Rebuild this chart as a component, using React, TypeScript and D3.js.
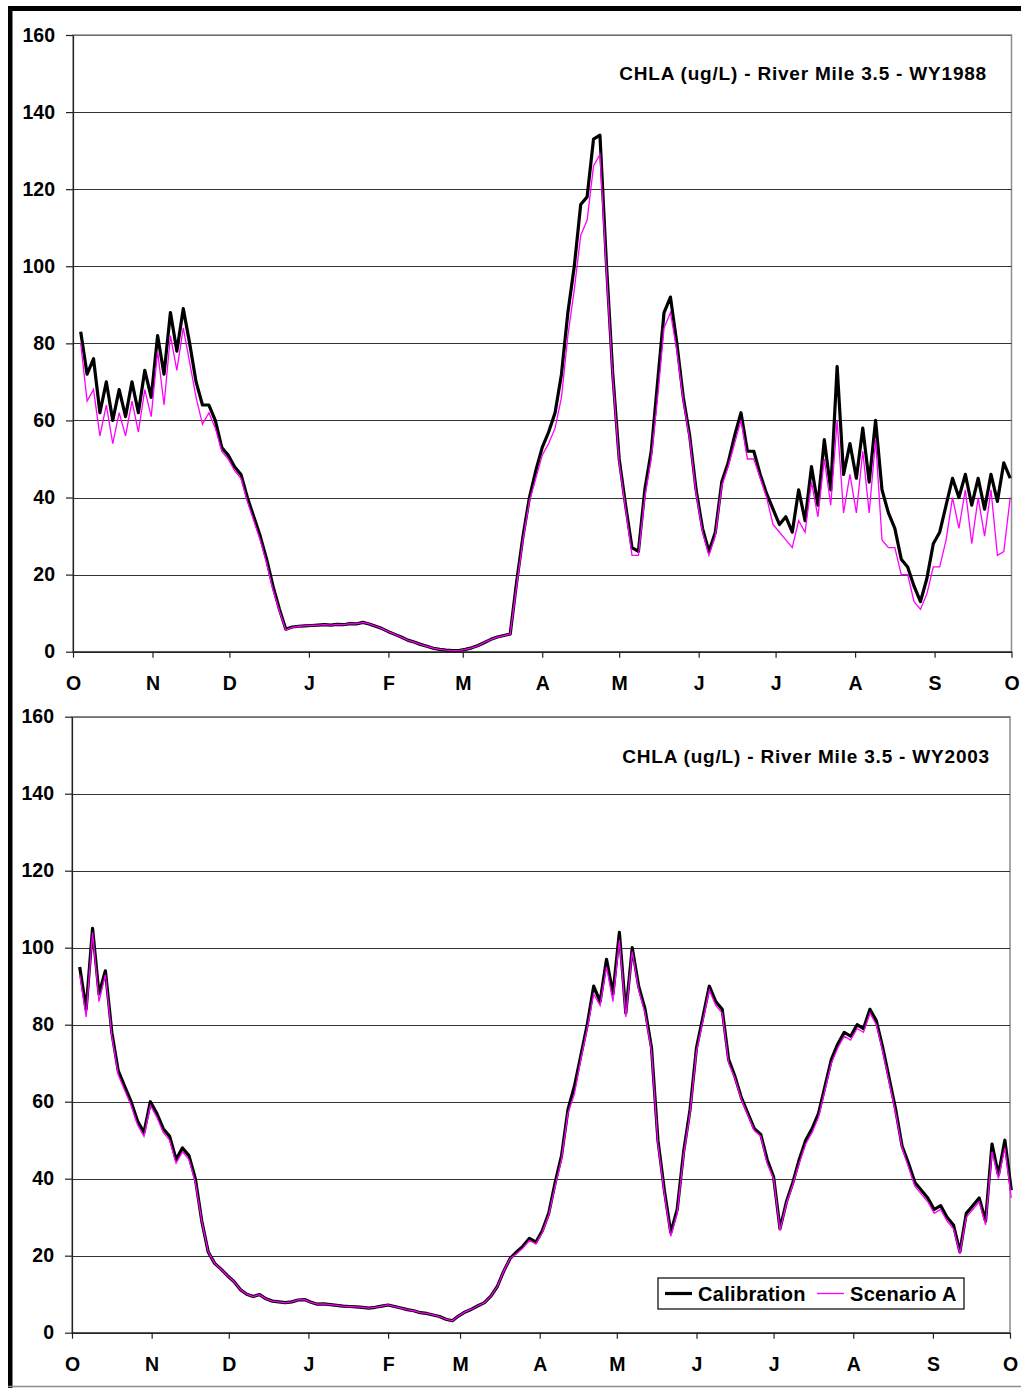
// @ts-nocheck
import React, { useEffect, useRef } from "react";
import * as d3 from "d3";

const monthLabels = ["O", "N", "D", "J", "F", "M", "A", "M", "J", "J", "A", "S", "O"];
// day of water year at each month boundary
const monthStarts1988 = [0, 31, 61, 92, 123, 152, 183, 213, 244, 274, 305, 336, 366];
const monthStarts2003 = [0, 31, 61, 92, 123, 151, 182, 212, 243, 273, 304, 335, 365];
const yTicks = [0, 20, 40, 60, 80, 100, 120, 140, 160];

// values every 2.5 days, starting at day 3
const sampleDays = d3.range(3, 366, 2.5);

const calibration1988 = [
  83, 72, 76, 62, 70, 60, 68, 61, 70, 62, 73, 66, 82, 72, 88, 78, 89, 80, 70, 64,
  64, 60, 53, 51, 48, 46, 40, 35, 30, 24, 17, 11, 5.8, 6.4, 6.6, 6.7, 6.8, 6.9, 7, 6.9,
  7.1, 7, 7.3, 7.2, 7.6, 7.2, 6.6, 6, 5.2, 4.5, 3.8, 3, 2.5, 1.9, 1.4, 0.9, 0.6, 0.4, 0.3, 0.3,
  0.6, 1, 1.6, 2.4, 3.2, 3.8, 4.2, 4.6, 18, 30, 40, 47, 53, 57, 62, 72, 88, 100, 116, 118,
  133, 134, 101, 72, 50, 38, 27, 26, 42, 52, 70, 88, 92, 80, 66, 56, 42, 32, 26, 31,
  44, 49, 56, 62, 52, 52, 46, 41, 37, 33, 35, 31, 42, 34, 48, 38, 55, 42, 74, 46,
  54, 45, 58, 44, 60, 42, 36, 32, 24, 22, 17, 13, 19, 28, 31, 38, 45, 40, 46, 38,
  45, 37, 46, 39, 49, 45,
];

const scenarioA1988 = [
  80, 65, 68, 56, 64, 54, 62, 56, 65, 57, 68, 61, 78, 64, 82, 73, 84, 75, 66, 59,
  62, 58, 52, 50, 47, 45, 39, 34, 29, 23, 16, 10.5, 5.6, 6.3, 6.6, 6.7, 6.8, 6.9, 7, 6.9,
  7.1, 7, 7.3, 7.2, 7.6, 7.2, 6.6, 6, 5.2, 4.5, 3.8, 3, 2.5, 1.9, 1.4, 0.9, 0.6, 0.4, 0.3, 0.3,
  0.6, 1, 1.6, 2.4, 3.2, 3.8, 4.2, 4.6, 17, 29, 39, 45, 51, 54, 58, 66, 82, 94, 108, 112,
  126, 129, 99, 71, 49, 37, 25, 25, 40, 50, 66, 84, 88, 78, 65, 55, 41, 31, 25, 30,
  43, 48, 54, 60, 50, 50, 45, 40, 33, 31, 29, 27, 34, 31, 44, 35, 50, 38, 60, 36,
  46, 36, 52, 36, 55, 29, 27, 27, 20, 20, 13, 11, 15, 22, 22, 29, 40, 32, 42, 28,
  40, 30, 42, 25, 26, 40,
];

const calibration2003 = [
  95, 84, 105, 88, 94, 78, 68, 64, 60, 55, 52, 60, 57, 53, 51, 45, 48, 46, 40, 29,
  21, 18, 16.5, 14.8, 13.3, 11.2, 10, 9.4, 9.9, 8.8, 8.2, 8, 7.8, 8, 8.5, 8.6, 7.9, 7.4, 7.5, 7.3,
  7.1, 6.9, 6.8, 6.7, 6.6, 6.4, 6.6, 6.9, 7.2, 6.8, 6.4, 6, 5.7, 5.2, 5, 4.6, 4.2, 3.5, 3.1, 4.4,
  5.4, 6.1, 7, 7.8, 9.5, 12, 16, 19.3, 21, 22.5, 24.5, 23.5, 26.5, 31, 39, 46, 58, 64, 72, 80,
  90, 86, 97, 88, 104, 83, 100, 90, 84, 74, 50, 37, 26, 32, 47, 58, 74, 82, 90, 86,
  84, 71, 66.5, 61, 57, 53, 51.5, 45, 40.5, 27, 34, 39, 45, 50, 53, 57, 64, 71, 75, 78,
  77, 80, 79, 84, 81, 74, 66, 58, 48.5, 44, 39, 37, 35, 32, 33, 30, 28, 21, 31, 33,
  35, 29, 49, 41, 50, 37,
];

const scenarioA2003 = [
  93, 82, 104, 86, 93, 77, 67, 63, 59, 54, 51, 59, 56, 52, 50, 44, 47, 45, 39, 29,
  21, 18, 16.5, 14.8, 13.3, 11.2, 10, 9.4, 9.9, 8.8, 8.2, 8, 7.8, 8, 8.5, 8.6, 7.9, 7.4, 7.5, 7.3,
  7.1, 6.9, 6.8, 6.7, 6.6, 6.4, 6.6, 6.9, 7.2, 6.8, 6.4, 6, 5.7, 5.2, 5, 4.6, 4.2, 3.5, 3.1, 4.4,
  5.4, 6.1, 7, 7.8, 9.5, 12, 16, 19.3, 20.5, 22, 24, 23, 26, 30.5, 38, 45, 57, 62, 71, 79,
  88, 85, 95, 86, 102, 82, 99, 89, 83, 73, 49, 36, 25, 31, 46, 57, 73, 81, 89, 85,
  83, 70, 66, 60.5, 56.5, 52.5, 51, 44, 40, 26.5, 33.5, 38.5, 44, 49, 52, 56, 63, 70, 74, 77,
  76, 79, 78, 83, 80, 73, 65, 57, 48, 43, 38, 36, 34, 31, 32, 29, 27, 20.5, 30, 32,
  34, 28, 47, 40, 48, 35,
];

const titles = [
  "CHLA (ug/L) - River Mile 3.5 - WY1988",
  "CHLA (ug/L) - River Mile 3.5 - WY2003",
];
const seriesNames = ["Calibration", "Scenario A"];

const FONT = "'Liberation Sans', Arial, sans-serif";

const drawPanel = (svg, p) => {
  const x = d3.scaleLinear().domain([0, p.monthStarts[12]]).range([p.left, p.right]);
  const y = d3.scaleLinear().domain([0, 160]).range([p.bottom, p.top]);
  const g = svg.append("g");

  // plot area border
  g.append("rect")
    .attr("x", p.left)
    .attr("y", p.top)
    .attr("width", p.right - p.left)
    .attr("height", p.bottom - p.top)
    .attr("fill", "white")
    .attr("stroke", "#8c8c8c")
    .attr("stroke-width", 1.5);

  // gridlines
  g.selectAll(".grid")
    .data(yTicks.filter((t) => t > 0))
    .enter()
    .append("line")
    .attr("x1", p.left)
    .attr("x2", p.right)
    .attr("y1", (d) => Math.round(y(d)) + 0.5)
    .attr("y2", (d) => Math.round(y(d)) + 0.5)
    .attr("stroke", (d) => (d === 160 ? "#6e6e6e" : "#333"))
    .attr("stroke-width", 1.2);

  const line = d3
    .line()
    .x((d) => x(d[0]))
    .y((d) => y(d[1]));

  g.append("path")
    .attr("d", line(sampleDays.map((d, i) => [d, p.cal[i]])))
    .attr("fill", "none")
    .attr("stroke", "black")
    .attr("stroke-width", 3.2)
    .attr("stroke-linejoin", "round");

  g.append("path")
    .attr("d", line(sampleDays.map((d, i) => [d, p.scn[i]])))
    .attr("fill", "none")
    .attr("stroke", "#ff00ff")
    .attr("stroke-width", 1.3);

  // Y axis
  const yAxis = g
    .append("g")
    .attr("transform", `translate(${p.left},0)`)
    .call(
      d3.axisLeft(y).tickValues(yTicks).tickSize(7).tickSizeOuter(0).tickPadding(11).tickFormat((d) => d),
    );
  yAxis.select(".domain").attr("stroke", "#222").attr("stroke-width", 1.2);
  yAxis.selectAll("line").attr("stroke", "#222").attr("stroke-width", 1.2);
  yAxis
    .selectAll("text")
    .attr("font-family", FONT)
    .attr("font-weight", "bold")
    .attr("font-size", 19.5)
    .attr("fill", "black");

  // X axis
  const xAxis = g
    .append("g")
    .attr("transform", `translate(0,${p.bottom})`)
    .call(
      d3
        .axisBottom(x)
        .tickValues(p.monthStarts)
        .tickSize(6)
        .tickSizeOuter(0)
        .tickPadding(18)
        .tickFormat((d, i) => monthLabels[i]),
    );
  xAxis.select(".domain").attr("stroke", "#222").attr("stroke-width", 1.5);
  xAxis.selectAll("line").attr("stroke", "#222").attr("stroke-width", 1.2);
  xAxis
    .selectAll("text")
    .attr("font-family", FONT)
    .attr("font-weight", "bold")
    .attr("font-size", 19.5)
    .attr("fill", "black");

  g.append("text")
    .attr("x", p.titleX)
    .attr("y", p.titleY)
    .attr("text-anchor", "end")
    .attr("font-family", FONT)
    .attr("font-weight", "bold")
    .attr("font-size", 19)
    .attr("letter-spacing", 0.8)
    .text(p.title);

  if (p.legend) {
    const lg = g.append("g").attr("transform", "translate(658,1278)");
    lg.append("rect")
      .attr("width", 306)
      .attr("height", 31)
      .attr("fill", "white")
      .attr("stroke", "black")
      .attr("stroke-width", 1.2);
    const items = [
      { name: seriesNames[0], color: "black", w: 3.2, x: 7 },
      { name: seriesNames[1], color: "#ff00ff", w: 1.3, x: 159 },
    ];
    items.forEach((it) => {
      lg.append("line")
        .attr("x1", it.x)
        .attr("x2", it.x + 27)
        .attr("y1", 15.5)
        .attr("y2", 15.5)
        .attr("stroke", it.color)
        .attr("stroke-width", it.w);
      lg.append("text")
        .attr("x", it.x + 33)
        .attr("y", 22.5)
        .attr("font-family", FONT)
        .attr("font-weight", "bold")
        .attr("font-size", 20)
        .attr("letter-spacing", 0.3)
        .text(it.name);
    });
  }
};

const App = () => {
  const svgRef = useRef();

  useEffect(() => {
    const svg = d3.select(svgRef.current);
    svg.selectAll("*").remove();

    svg.append("rect").attr("width", 1021).attr("height", 1388).attr("fill", "white");

    drawPanel(svg, {
      left: 73,
      right: 1011.5,
      top: 35,
      bottom: 651.7,
      monthStarts: monthStarts1988,
      cal: calibration1988,
      scn: scenarioA1988,
      title: titles[0],
      titleX: 987,
      titleY: 80,
      legend: false,
    });

    drawPanel(svg, {
      left: 72,
      right: 1010,
      top: 716.7,
      bottom: 1332.7,
      monthStarts: monthStarts2003,
      cal: calibration2003,
      scn: scenarioA2003,
      title: titles[1],
      titleX: 990,
      titleY: 763,
      legend: true,
    });

    // page frame
    svg.append("rect").attr("x", 8).attr("y", 6).attr("width", 1013).attr("height", 5).attr("fill", "black");
    svg.append("rect").attr("x", 8).attr("y", 6).attr("width", 4.5).attr("height", 1382).attr("fill", "black");
    svg.append("line")
      .attr("x1", 8)
      .attr("x2", 1021)
      .attr("y1", 1386.5)
      .attr("y2", 1386.5)
      .attr("stroke", "#8c8c8c")
      .attr("stroke-width", 1.5);
  }, []);

  return (
    <svg
      ref={svgRef}
      width={1021}
      height={1388}
      style={{ position: "absolute", left: 0, top: 0, display: "block" }}
    ></svg>
  );
};

export default App;
